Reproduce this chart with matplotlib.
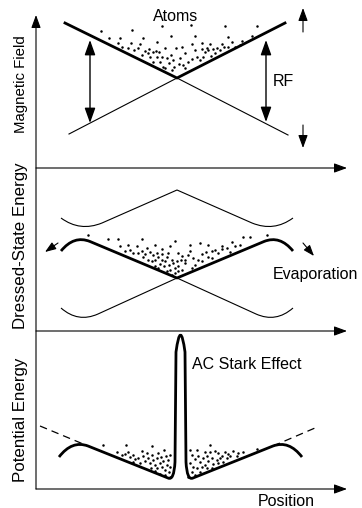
import numpy as np
import matplotlib.pyplot as plt
from matplotlib.path import Path
from matplotlib.patches import PathPatch, FancyArrowPatch

plt.rcParams['font.family'] = ['Liberation Sans', 'DejaVu Sans']

# Everything is laid out in picture pixels: x to the right, y downwards.

#       Frame
axis_x = 36
axis_top = 15
axis_bottom = 489
axis_right = 347
panel_base = [168, 331, 489]   # y of the three horizontal "position" axes

#       Panel 1: magnetic field
field_thick_x = [65, 177, 285]
field_thick_y = [23, 78, 23]
field_thin_left_x = [69, 177]
field_thin_left_y = [134, 78]
field_thin_right_x = [177, 288]
field_thin_right_y = [78, 135]
rf_arrow_x = [90, 266]
rf_arrow_top = [40, 40]
rf_arrow_bottom = [123, 122]
sweep_x = 303
sweep_up = [32, 8]
sweep_down = [125, 148]

field_dots_zx = [48, 72, 105, 140, 175, 232, 258, 318, 330, 420, 430, 515, 500,
                 100, 112, 128, 138, 148, 160, 165, 180, 192, 205, 215, 212, 222,
                 195, 230, 240, 245, 258, 265, 272, 290, 285, 300, 310, 320, 330,
                 335, 345, 350, 360, 368, 375, 378, 390, 395, 405, 410, 418, 430,
                 440, 450, 465, 470, 225, 235, 252, 268, 240, 282, 295, 205, 260,
                 300, 215, 190, 170, 355, 365, 322, 385, 350]
field_dots_zy = [48, 68, 68, 44, 68, 32, 62, 30, 62, 34, 65, 34, 62,
                 85, 95, 98, 85, 105, 100, 88, 108, 102, 112, 82, 108, 110,
                 125, 125, 100, 130, 120, 135, 100, 95, 128, 115, 140, 88, 105,
                 125, 135, 102, 110, 105, 88, 122, 115, 100, 105, 88, 95, 95,
                 82, 95, 90, 78, 140, 155, 145, 155, 160, 148, 150, 140, 165,
                 160, 125, 115, 120, 125, 98, 132, 102, 85]

#       Panel 2: dressed-state energy (bezier control points)
dressed_upper = [(61, 218), (80, 232), (102, 223), (177, 190),
                 (252, 223), (274, 232), (293, 218)]
dressed_trap = [(61, 251), (74, 235), (90, 241.5), (177, 278),
                (264, 241.5), (280, 235), (293, 251)]
dressed_lower = [(61, 308), (78, 323), (98, 314), (177, 278),
                 (256, 314), (276, 323), (293, 308)]
evap_left = [(58, 243), (45, 252)]
evap_right = [(303, 243), (314, 256)]

dressed_dots_zx = [38, 98, 130, 200, 240, 285, 300, 345, 375, 400, 440, 470, 505, 525, 575,
                   135, 160, 165, 185, 190, 200, 210, 215, 225, 235, 245, 250, 260, 262,
                   270, 275, 282, 290, 295, 300, 305, 310, 318, 322, 330, 340, 345, 355,
                   360, 370, 380, 392, 400, 410, 420, 430, 440, 455, 465, 480, 495, 150,
                   175, 205, 220, 230, 240, 255, 268, 285, 300, 310, 275, 290, 320, 240,
                   250, 350, 330, 280, 380, 410, 260, 310]
dressed_dots_zy = [22, 33, 33, 32, 50, 55, 40, 52, 45, 52, 55, 42, 28, 28, 22,
                   55, 50, 65, 55, 75, 68, 78, 60, 72, 80, 75, 88, 78, 95,
                   100, 88, 110, 95, 105, 120, 100, 115, 95, 85, 105, 80, 68, 90,
                   110, 95, 78, 72, 88, 70, 65, 75, 62, 60, 72, 55, 50, 70,
                   75, 88, 95, 100, 95, 108, 115, 125, 135, 128, 130, 140, 125, 115,
                   120, 120, 95, 75, 100, 90, 62, 75]

#       Panel 3: potential energy
linear_left = [(40, 426), (88, 446)]
linear_right = [(273, 446), (315, 428)]
trap_path = [(59, 457), (72, 440), (88, 446), (168, 478),
             (174, 481), (175, 462), (176, 352), (180.5, 318), (185, 352),
             (186, 462), (187, 481), (193, 478), (273, 446),
             (289, 440), (302, 457)]
trap_codes = [Path.MOVETO, Path.CURVE3, Path.CURVE3, Path.LINETO,
              Path.CURVE3, Path.CURVE3, Path.LINETO, Path.CURVE3, Path.CURVE3,
              Path.LINETO, Path.CURVE3, Path.CURVE3, Path.LINETO,
              Path.CURVE3, Path.CURVE3]

stark_dots_zx = [40, 108, 185, 222, 82, 95, 105, 115, 120, 130, 135, 145, 155, 160,
                 165, 170, 175, 180, 185, 190, 195, 200, 202, 205, 210, 212, 215, 220,
                 225, 228, 232, 235, 238, 240, 195, 210, 225, 240, 182, 150, 130, 240,
                 360, 300, 320, 345, 360, 375, 385, 395, 405, 415, 430, 445, 460, 500,
                 305, 315, 325, 330, 340, 345, 355, 365, 370, 380, 390, 400, 410, 420,
                 300, 310, 320, 335, 350, 365, 305, 315, 330, 295, 385, 440, 350]
stark_dots_zy = [30, 30, 33, 45, 52, 60, 58, 52, 65, 60, 72, 68, 47, 62,
                 78, 55, 70, 85, 60, 75, 90, 70, 100, 55, 85, 65, 95, 78,
                 105, 62, 90, 75, 110, 95, 108, 118, 120, 125, 98, 85, 80, 60,
                 30, 45, 45, 52, 50, 48, 55, 62, 50, 58, 48, 55, 50, 42,
                 60, 72, 62, 80, 70, 90, 78, 68, 88, 75, 70, 80, 68, 62,
                 85, 95, 100, 95, 100, 98, 110, 120, 110, 125, 85, 62, 62]


def zoomed(zx, zy, x0, y0):
    return x0 + np.array(zx) / 3, y0 + np.array(zy) / 3


def curve(points, codes, lw):
    ax.add_patch(PathPatch(Path(points, codes), facecolor='none', edgecolor='black',
                           lw=lw, capstyle='butt', joinstyle='round'))


def arrow(start, end, style, scale, lw=0.8):
    ax.add_patch(FancyArrowPatch(start, end, arrowstyle=style, mutation_scale=scale,
                                 color='black', lw=lw, shrinkA=0, shrinkB=0))


fig = plt.figure(figsize=(3.62, 5.08), dpi=100)
ax = fig.add_axes([0, 0, 1, 1])
ax.set_xlim(0, 362)
ax.set_ylim(508, 0)
ax.axis('off')

head = '-|>,head_length=0.6,head_width=0.22'

# frame: one vertical axis, three horizontal ones
arrow((axis_x, axis_bottom), (axis_x, axis_top), head, 13)
for yb in panel_base:
    arrow((axis_x, yb), (axis_right, yb), head, 13)

# panel 1
ax.plot(field_thick_x, field_thick_y, color='black', lw=2.0, solid_joinstyle='miter')
ax.plot(field_thin_left_x, field_thin_left_y, color='black', lw=0.8)
ax.plot(field_thin_right_x, field_thin_right_y, color='black', lw=0.8)
for xa, yt, yb in zip(rf_arrow_x, rf_arrow_top, rf_arrow_bottom):
    arrow((xa, yb), (xa, yt), '<|-|>,head_length=0.7,head_width=0.25', 13, lw=1.0)
arrow((sweep_x, sweep_up[0]), (sweep_x, sweep_up[1]), head, 13)
arrow((sweep_x, sweep_down[0]), (sweep_x, sweep_down[1]), head, 13)
fx, fy = zoomed(field_dots_zx, field_dots_zy, 85, 15)
ax.plot(fx, fy, 'o', color='black', ms=1.8, mew=0)

# panel 2
bezier = [Path.MOVETO, Path.CURVE3, Path.CURVE3, Path.LINETO,
          Path.LINETO, Path.CURVE3, Path.CURVE3]
curve(dressed_upper, bezier, 0.8)
curve(dressed_lower, bezier, 0.8)
curve(dressed_trap, bezier, 2.0)
arrow(evap_left[0], evap_left[1], head, 11)
arrow(evap_right[0], evap_right[1], head, 11)
dx, dy = zoomed(dressed_dots_zx, dressed_dots_zy, 75, 228)
ax.plot(dx, dy, 'o', color='black', ms=1.8, mew=0)

# panel 3
for seg in (linear_left, linear_right):
    xs, ys = zip(*seg)
    ax.plot(xs, ys, color='black', lw=0.9, dashes=(6, 4))
curve(trap_path, trap_codes, 2.0)
sx, sy = zoomed(stark_dots_zx, stark_dots_zy, 90, 435)
ax.plot(sx, sy, 'o', color='black', ms=1.8, mew=0)

# labels
ax.text(176, 21, 'Atoms', fontsize=11.5, ha='center', va='baseline')
ax.text(273, 86, 'RF', fontsize=11.5, ha='left', va='baseline')
ax.text(273, 279, 'Evaporation', fontsize=11.5, ha='left', va='baseline')
ax.text(192, 369, 'AC Stark Effect', fontsize=11.5, ha='left', va='baseline')
ax.text(258, 506, 'Position', fontsize=11.5, ha='left', va='baseline')

ax.text(25, 84, 'Magnetic Field', fontsize=10.8, rotation=90, rotation_mode='anchor',
        ha='center', va='baseline')
ax.text(25, 246, 'Dressed-State Energy', fontsize=12.2, rotation=90,
        rotation_mode='anchor', ha='center', va='baseline')
ax.text(25, 420, 'Potential Energy', fontsize=12.2, rotation=90, rotation_mode='anchor',
        ha='center', va='baseline')

fig.savefig('out.png', dpi=100)
